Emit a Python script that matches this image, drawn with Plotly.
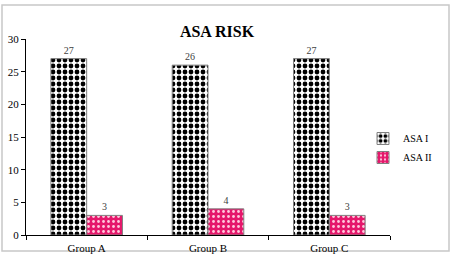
import plotly.graph_objects as go

categories = ["Group A", "Group B", "Group C"]
asa1 = [27, 26, 27]
asa2 = [3, 4, 3]
series_names = ["ASA I", "ASA II"]
title_text = "ASA RISK"

SERIF = "Liberation Serif, Times New Roman, serif"

fig = go.Figure()
fig.add_trace(go.Bar(
    x=categories, y=asa1, name=series_names[0],
    text=asa1, textposition="outside", cliponaxis=False,
    textfont=dict(family=SERIF, size=10, color="#404040"),
    marker=dict(color="white",
                pattern=dict(shape=".", fgcolor="black", bgcolor="white", size=6, solidity=0.5, fillmode="replace"),
                line=dict(color="#808080", width=1)),
))
fig.add_trace(go.Bar(
    x=categories, y=asa2, name=series_names[1],
    text=asa2, textposition="outside", cliponaxis=False,
    textfont=dict(family=SERIF, size=10, color="#404040"),
    marker=dict(color="#E5176B",
                pattern=dict(shape=".", fgcolor="#FFC8DC", bgcolor="#E5176B", size=5, solidity=0.25, fillmode="replace"),
                line=dict(color="#808080", width=1)),
))

W, H = 451, 255
L, R, T, B = 26, 2, 39, 20
PLOT_RIGHT = 390
pw = W - L - R
ph = H - T - B
xdom = (PLOT_RIGHT - L) / pw

fig.update_layout(
    width=W, height=H,
    margin=dict(l=L, r=R, t=T, b=B, autoexpand=False),
    paper_bgcolor="white", plot_bgcolor="white",
    barmode="group", bargap=0.41, bargroupgap=0,
    font=dict(family=SERIF, size=11, color="black"),
    title=dict(text="<b>" + title_text + "</b>", x=217 / W, xanchor="center",
               y=1 - 31 / H, yanchor="middle",
               font=dict(family=SERIF, size=16, color="black")),
    legend=dict(x=(363 - L) / pw, xanchor="left", y=(235 - 124) / ph, yanchor="top",
                font=dict(family=SERIF, size=10, color="black"),
                bgcolor="rgba(0,0,0,0)", itemwidth=30, tracegroupgap=0),
    showlegend=True,
)
fig.update_xaxes(domain=[0, xdom], automargin=False,
                 showline=True, linecolor="black", linewidth=1, ticks="outside",
                 tickson="boundaries", ticklen=4, tickcolor="black", showgrid=False,
                 ticklabelstandoff=3,
                 tickfont=dict(family=SERIF, size=11, color="black"))
fig.update_yaxes(range=[0, 30], dtick=5, automargin=False, showline=True, linecolor="black", linewidth=1,
                 ticks="outside", ticklen=4, tickcolor="black", showgrid=False, zeroline=False,
                 tickfont=dict(family=SERIF, size=11, color="black"))

fig.add_shape(type="rect", xref="paper", yref="paper",
              x0=(2 - L) / pw, x1=(449 - L) / pw,
              y0=(235 - 251) / ph, y1=(235 - 5) / ph,
              line=dict(color="#C8C8C8", width=1.5), fillcolor="rgba(0,0,0,0)", layer="below")

fig.write_html("out.html")
